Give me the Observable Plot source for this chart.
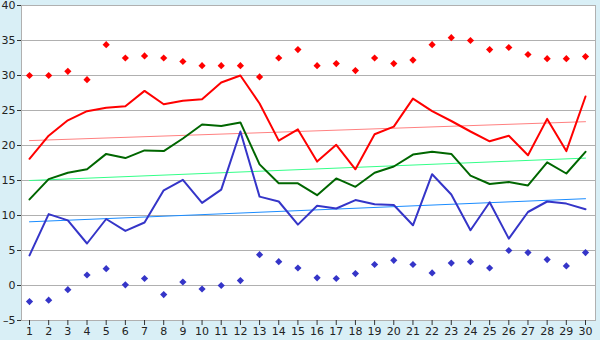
<!DOCTYPE html>
<html>
<head>
<meta charset="utf-8">
<script src="https://cdn.jsdelivr.net/npm/d3@7"></script>
<script src="https://cdn.jsdelivr.net/npm/@observablehq/plot@0.6"></script>
<style>
  html, body { margin: 0; padding: 0; background: #d9eff6; }
  #chart svg { display: block; }
</style>
</head>
<body>
<div id="chart"></div>
<script>
const days = [1,2,3,4,5,6,7,8,9,10,11,12,13,14,15,16,17,18,19,20,21,22,23,24,25,26,27,28,29,30];
const maxTemp = [18.1,21.4,23.6,24.9,25.4,25.6,27.8,25.9,26.4,26.6,29.0,30.0,26.0,20.7,22.3,17.7,20.1,16.6,21.6,22.7,26.7,24.9,23.5,22.0,20.6,21.4,18.6,23.8,19.2,27.0];
const meanTemp = [12.3,15.2,16.1,16.6,18.8,18.2,19.3,19.2,21.0,23.0,22.8,23.3,17.3,14.6,14.6,12.9,15.3,14.1,16.1,17.0,18.7,19.1,18.8,15.7,14.5,14.8,14.3,17.6,16.0,19.1];
const minTemp = [4.3,10.2,9.3,6.0,9.5,7.8,9.0,13.6,15.1,11.8,13.7,22.0,12.7,12.0,8.7,11.4,11.0,12.2,11.6,11.5,8.6,15.9,13.0,7.9,11.9,6.7,10.5,12.0,11.7,10.9];
const recordMax = [30.0,30.0,30.6,29.4,34.4,32.5,32.8,32.5,32.0,31.4,31.4,31.4,29.8,32.5,33.7,31.4,31.7,30.7,32.5,31.7,32.2,34.4,35.4,35.0,33.7,34.0,33.0,32.4,32.4,32.7];
const recordMin = [-2.3,-2.1,-0.6,1.5,2.4,0.1,1.0,-1.3,0.5,-0.5,0.0,0.7,4.4,3.4,2.5,1.1,1.0,1.7,3.0,3.6,3.0,1.8,3.2,3.4,2.5,5.0,4.7,3.7,2.8,4.7];
const trendDays = [1, 30];
const trendMax = [20.7, 23.4];
const trendMean = [15.0, 18.2];
const trendMin = [9.1, 12.4];
const yTicks = [-5,0,5,10,15,20,25,30,35,40];

const series = (vals) => days.map((d, i) => ({day: d, v: vals[i]}));
const trend = (vals) => trendDays.map((d, i) => ({day: d, v: vals[i]}));

// square diamond (equal width and height)
const squareDiamond = {
  draw(context, size) {
    const r = Math.sqrt(size / Math.PI);
    context.moveTo(0, -r);
    context.lineTo(r, 0);
    context.lineTo(0, r);
    context.lineTo(-r, 0);
    context.closePath();
  }
};

const chart = Plot.plot({
  width: 600,
  height: 340,
  marginLeft: 21,
  marginRight: 5,
  marginTop: 5,
  marginBottom: 20,
  style: {fontFamily: "DejaVu Sans", fontSize: "11px", background: "#d9eff6", color: "#222"},
  x: {type: "linear", domain: [1, 30], insetLeft: 8, insetRight: 10, label: null},
  y: {domain: [-5, 40], label: null},
  marks: [
    Plot.frame({fill: "white", stroke: "none"}),
    Plot.gridY(yTicks, {stroke: "#b0b0b0", strokeOpacity: 1, strokeWidth: 1}),
    Plot.frame({stroke: "#b0b0b0", fill: "none"}),
    Plot.axisY({ticks: yTicks, tickSize: 4, tickPadding: 2, stroke: "#333", label: null,
                tickFormat: d => String(d).replace("-", "\u2013")}),
    Plot.axisX({ticks: days, tickSize: 5, tickPadding: 2, stroke: "#333", tickFormat: d => String(d), label: null}),
    Plot.line(trend(trendMax), {x: "day", y: "v", stroke: "#ff8080", strokeWidth: 1}),
    Plot.line(trend(trendMean), {x: "day", y: "v", stroke: "#33ff88", strokeWidth: 1}),
    Plot.line(trend(trendMin), {x: "day", y: "v", stroke: "#1a8cff", strokeWidth: 1}),
    Plot.line(series(maxTemp), {x: "day", y: "v", stroke: "#ff0000", strokeWidth: 2}),
    Plot.line(series(meanTemp), {x: "day", y: "v", stroke: "#006600", strokeWidth: 2}),
    Plot.line(series(minTemp), {x: "day", y: "v", stroke: "#3535c8", strokeWidth: 2}),
    Plot.dot(series(recordMax), {x: "day", y: "v", symbol: squareDiamond, r: 3.6, fill: "#ff0000", stroke: "none"}),
    Plot.dot(series(recordMin), {x: "day", y: "v", symbol: squareDiamond, r: 3.6, fill: "#3535c8", stroke: "none"})
  ]
});
document.getElementById("chart").appendChild(chart);
</script>
</body>
</html>
